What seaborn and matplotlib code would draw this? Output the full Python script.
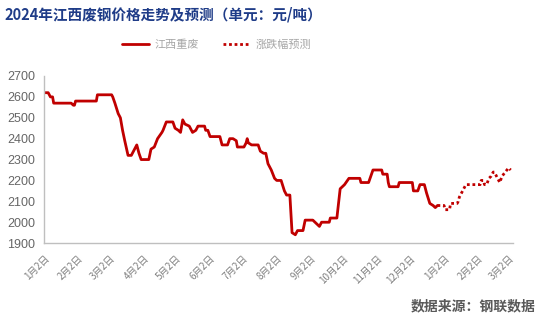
import matplotlib
matplotlib.use("Agg")
import matplotlib.pyplot as plt
import matplotlib.dates as mdates
import seaborn as sns
import pandas as pd

# ---- data ----
actual_dates = [
    "2024-01-02", "2024-01-06", "2024-01-08", "2024-01-10", "2024-01-11", "2024-01-27",
    "2024-01-29", "2024-01-30", "2024-01-31", "2024-02-19", "2024-02-20", "2024-03-04",
    "2024-03-05", "2024-03-07", "2024-03-10", "2024-03-12", "2024-03-14", "2024-03-16",
    "2024-03-19", "2024-03-22", "2024-03-24", "2024-03-27", "2024-03-29", "2024-03-31",
    "2024-04-07", "2024-04-09", "2024-04-12", "2024-04-15", "2024-04-19", "2024-04-20",
    "2024-04-23", "2024-04-29", "2024-05-01", "2024-05-04", "2024-05-06", "2024-05-08",
    "2024-05-10", "2024-05-14", "2024-05-15", "2024-05-17", "2024-05-20", "2024-05-22",
    "2024-05-28", "2024-05-29", "2024-05-31", "2024-06-02", "2024-06-11", "2024-06-13",
    "2024-06-18", "2024-06-20", "2024-06-23", "2024-06-26", "2024-06-27", "2024-07-03",
    "2024-07-05", "2024-07-06", "2024-07-07", "2024-07-10", "2024-07-16", "2024-07-18",
    "2024-07-21", "2024-07-23", "2024-07-25", "2024-07-28", "2024-07-31", "2024-08-02",
    "2024-08-06", "2024-08-09", "2024-08-11", "2024-08-14", "2024-08-16", "2024-08-19",
    "2024-08-21", "2024-08-26", "2024-08-28", "2024-09-04", "2024-09-08", "2024-09-10",
    "2024-09-12", "2024-09-19", "2024-09-20", "2024-09-26", "2024-09-29", "2024-10-03",
    "2024-10-07", "2024-10-17", "2024-10-18", "2024-10-25", "2024-10-27", "2024-10-29",
    "2024-11-06", "2024-11-07", "2024-11-11", "2024-11-12", "2024-11-13", "2024-11-21",
    "2024-11-22", "2024-12-04", "2024-12-05", "2024-12-09", "2024-12-11", "2024-12-15",
    "2024-12-17", "2024-12-20", "2024-12-23", "2024-12-25", "2024-12-27",
]
actual_values = [
    2620, 2620, 2600, 2600, 2570, 2570,
    2560, 2560, 2580, 2580, 2610, 2610,
    2600, 2570, 2520, 2500, 2440, 2390,
    2320, 2320, 2340, 2370, 2330, 2300,
    2300, 2350, 2360, 2400, 2430, 2440,
    2480, 2480, 2450, 2440, 2430, 2490,
    2470, 2460, 2450, 2430, 2440, 2460,
    2460, 2440, 2440, 2410, 2410, 2370,
    2370, 2400, 2400, 2390, 2360, 2360,
    2380, 2400, 2380, 2370, 2370, 2340,
    2330, 2330, 2280, 2250, 2210, 2200,
    2200, 2150, 2130, 2130, 1950, 1940,
    1960, 1960, 2010, 2010, 1990, 1980,
    2000, 2000, 2020, 2020, 2160, 2180,
    2210, 2210, 2190, 2190, 2220, 2250,
    2250, 2230, 2230, 2190, 2170, 2170,
    2190, 2190, 2150, 2150, 2180, 2180,
    2140, 2090, 2080, 2070, 2080,
]

forecast_dates = [
    "2024-12-27", "2025-01-02", "2025-01-03", "2025-01-07", "2025-01-08", "2025-01-14",
    "2025-01-15", "2025-01-16", "2025-01-18", "2025-01-20", "2025-01-22", "2025-02-04",
    "2025-02-05", "2025-02-07", "2025-02-08", "2025-02-10", "2025-02-12", "2025-02-14",
    "2025-02-16", "2025-02-17", "2025-02-19", "2025-02-22", "2025-02-24", "2025-02-27",
    "2025-03-02", "2025-03-04",
]
forecast_values = [
    2080, 2080, 2060, 2060, 2090, 2090,
    2100, 2120, 2140, 2160, 2180, 2180,
    2200, 2200, 2180, 2180, 2210, 2220,
    2240, 2240, 2220, 2190, 2220, 2240,
    2260, 2250,
]

tick_dates = [
    "2024-01-02", "2024-02-02", "2024-03-02", "2024-04-02", "2024-05-02", "2024-06-02",
    "2024-07-02", "2024-08-02", "2024-09-02", "2024-10-02", "2024-11-02", "2024-12-02",
    "2025-01-02", "2025-02-02", "2025-03-02",
]
tick_labels = [
    "1月2日", "2月2日", "3月2日", "4月2日", "5月2日", "6月2日", "7月2日", "8月2日",
    "9月2日", "10月2日", "11月2日", "12月2日", "1月2日", "2月2日", "3月2日",
]
y_ticks = [1900, 2000, 2100, 2200, 2300, 2400, 2500, 2600, 2700]

series_names = ["江西重废", "涨跌幅预测"]
title_text = "2024年江西废钢价格走势及预测（单元：元/吨）"
source_text = "数据来源：钢联数据"

# ---- style ----
sns.set_style("white")
plt.rcParams["font.family"] = ["Liberation Sans", "Noto Sans CJK SC", "DejaVu Sans"]
cjk = ["Noto Sans CJK SC", "DejaVu Sans"]

RED = "#C00000"
GREY_AX = "#BFBFBF"
GREY_TXT = "#666666"

df_a = pd.DataFrame({"date": pd.to_datetime(actual_dates), "price": actual_values})
df_f = pd.DataFrame({"date": pd.to_datetime(forecast_dates), "price": forecast_values})

fig = plt.figure(figsize=(5.48, 3.22), dpi=100)
ax = fig.add_axes([0.080, 0.245, 0.856, 0.519])

sns.lineplot(data=df_a, x="date", y="price", ax=ax, color=RED, linewidth=2.0,
             label=series_names[0])
sns.lineplot(data=df_f, x="date", y="price", ax=ax, color=RED, linewidth=2.0,
             linestyle=(0, (1, 1)), label=series_names[1])

ax.set_xlim(pd.Timestamp("2024-01-02"), pd.Timestamp("2025-03-06"))
ax.set_ylim(1900, 2700)
ax.set_yticks(y_ticks)
ax.set_yticklabels([str(v) for v in y_ticks], fontsize=9, color=GREY_TXT)

ax.set_xticks(mdates.date2num(pd.to_datetime(tick_dates)))
ax.set_xticklabels(tick_labels, rotation=45, ha="right", va="top",
                   rotation_mode="anchor", fontsize=7, color="#7F7F7F", family=cjk)
ax.set_xlabel("")
ax.set_ylabel("")

for s in ["top", "right"]:
    ax.spines[s].set_visible(False)
for s in ["left", "bottom"]:
    ax.spines[s].set_color(GREY_AX)
    ax.spines[s].set_linewidth(1.0)
ax.tick_params(axis="both", which="both", direction="out", length=4, width=1,
               color=GREY_AX)
ax.tick_params(axis="x", pad=3)
ax.tick_params(axis="y", pad=2)
ax.grid(False)

leg = ax.legend(loc="center", bbox_to_anchor=(0.395, 0.86), bbox_transform=fig.transFigure,
                ncol=2, frameon=False, handlelength=2.4, handletextpad=0.5,
                columnspacing=2.2, prop={"family": cjk, "size": 8})
for t in leg.get_texts():
    t.set_color("#A6A6A6")

fig.text(0.009, 0.955, title_text, fontsize=10.5, fontweight="bold", color="#1F3C88",
         ha="left", va="center", family=cjk)
fig.text(0.978, 0.047, source_text, fontsize=10, fontweight="bold", color="#595959",
         ha="right", va="center", family=cjk)

fig.savefig("out.png", dpi=100)
